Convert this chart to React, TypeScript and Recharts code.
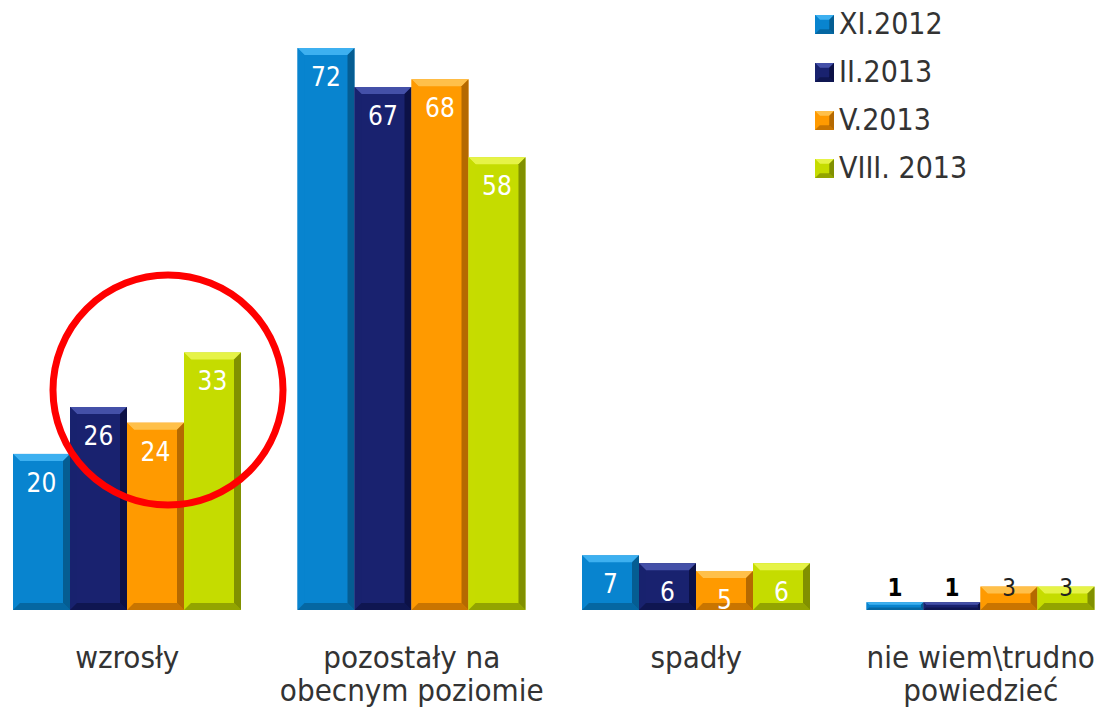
import React from 'react';
import { BarChart, Bar, XAxis, YAxis, Legend, LabelList } from 'recharts';

const categories = ['wzrosły', 'pozostały na\nobecnym poziomie', 'spadły', 'nie wiem\\trudno\npowiedzieć'];
const seriesNames = ['XI.2012', 'II.2013', 'V.2013', 'VIII. 2013'];
const xi2012 = [20, 72, 7, 1];
const ii2013 = [26, 67, 6, 1];
const v2013 = [24, 68, 5, 3];
const viii2013 = [33, 58, 6, 3];

const palette = [
  { base: '#0884CF', light: '#3DB0F0', dark: '#04507E' },
  { base: '#19226F', light: '#4450A8', dark: '#080C38' },
  { base: '#FF9A00', light: '#FFC04A', dark: '#9C5800' },
  { base: '#C5DC00', light: '#E6F347', dark: '#6A7700' },
];

const data = categories.map((name, i) => ({
  name,
  s0: xi2012[i],
  s1: ii2013[i],
  s2: v2013[i],
  s3: viii2013[i],
}));

const FONT = '"DejaVu Sans Condensed", "DejaVu Sans", sans-serif';

function bevelShape(c: { base: string; light: string; dark: string }) {
  return (props: any) => {
    const { x, y, width, height } = props;
    if (!height || height <= 0) return null;
    const b = Math.min(7, height / 3, width / 4);
    const r = x + width;
    const btm = y + height;
    return (
      <g>
        <rect x={x} y={y} width={width} height={height} fill={c.base} />
        <polygon points={`${x},${y} ${r},${y} ${r - b},${y + b} ${x + b},${y + b}`} fill={c.light} />
        <polygon points={`${x},${y} ${x + b},${y + b} ${x + b},${btm - b} ${x},${btm}`} fill={c.base} opacity={0.85} />
        <polygon points={`${r},${y} ${r},${btm} ${r - b},${btm - b} ${r - b},${y + b}`} fill={c.dark} opacity={0.75} />
        <polygon points={`${x},${btm} ${x + b},${btm - b} ${r - b},${btm - b} ${r},${btm}`} fill={c.dark} opacity={0.55} />
      </g>
    );
  };
}

const valueLabel = (props: any) => {
  const { x, y, width, height, value } = props;
  const cx = x + width / 2;
  if (value <= 3) {
    return (
      <text x={cx} y={y + height - 22} textAnchor="middle" dominantBaseline="central"
        fontFamily={FONT} fontSize={24} fill={value < 2 ? '#000' : '#222'} fontWeight={value < 2 ? 'bold' : 'normal'}>
        {value}
      </text>
    );
  }
  return (
    <text x={cx} y={y + 29} textAnchor="middle" dominantBaseline="central"
      fontFamily={FONT} fontSize={26} fill="#fff">
      {value}
    </text>
  );
};

const CategoryTick = (props: any) => {
  const { x, y, payload } = props;
  const lines = String(payload.value).split('\n');
  return (
    <g>
      {lines.map((ln, i) => (
        <text key={i} x={x} y={y + 47 + i * 33} textAnchor="middle" dominantBaseline="central"
          fontFamily={FONT} fontSize={31} fill="#333">
          {ln}
        </text>
      ))}
    </g>
  );
};

const LegendContent = () => (
  <div style={{ fontFamily: FONT }}>
    {seriesNames.map((n, i) => (
      <div key={n} style={{ height: 48, display: 'flex', alignItems: 'center' }}>
        <svg width={19} height={19} style={{ marginRight: 5 }}>
          {bevelShape(palette[i])({ x: 0, y: 0, width: 19, height: 19 })}
        </svg>
        <span style={{ fontSize: 30, color: '#333', lineHeight: '48px' }}>{n}</span>
      </div>
    ))}
  </div>
);

export default function App() {
  const keys = ['s0', 's1', 's2', 's3'];
  return (
    <div style={{ position: 'absolute', left: -15, top: 0, width: 1138, height: 709 }}>
      <BarChart width={1138} height={709} data={data} barCategoryGap={28} barGap={0}
        margin={{ top: 48, right: 0, bottom: 0, left: 0 }}>
        <XAxis dataKey="name" axisLine={false} tickLine={false} tickSize={0} tickMargin={0}
          height={99} interval={0} tick={<CategoryTick />} />
        <YAxis hide domain={[0, 72]} />
        <Legend verticalAlign="middle" align="center" layout="horizontal" content={<LegendContent />}
          wrapperStyle={{ position: 'absolute', top: 0, left: 830, width: 250, height: 200 }} />
        {keys.map((k, i) => (
          <Bar key={k} dataKey={k} name={seriesNames[i]} isAnimationActive={false} shape={bevelShape(palette[i])}>
            <LabelList dataKey={k} content={valueLabel} />
          </Bar>
        ))}
      </BarChart>
      <svg width={1138} height={709} style={{ position: 'absolute', left: 0, top: 0, pointerEvents: 'none' }}>
        <circle cx={183} cy={390} r={115} fill="none" stroke="#FF0000" strokeWidth={7} />
      </svg>
    </div>
  );
}
